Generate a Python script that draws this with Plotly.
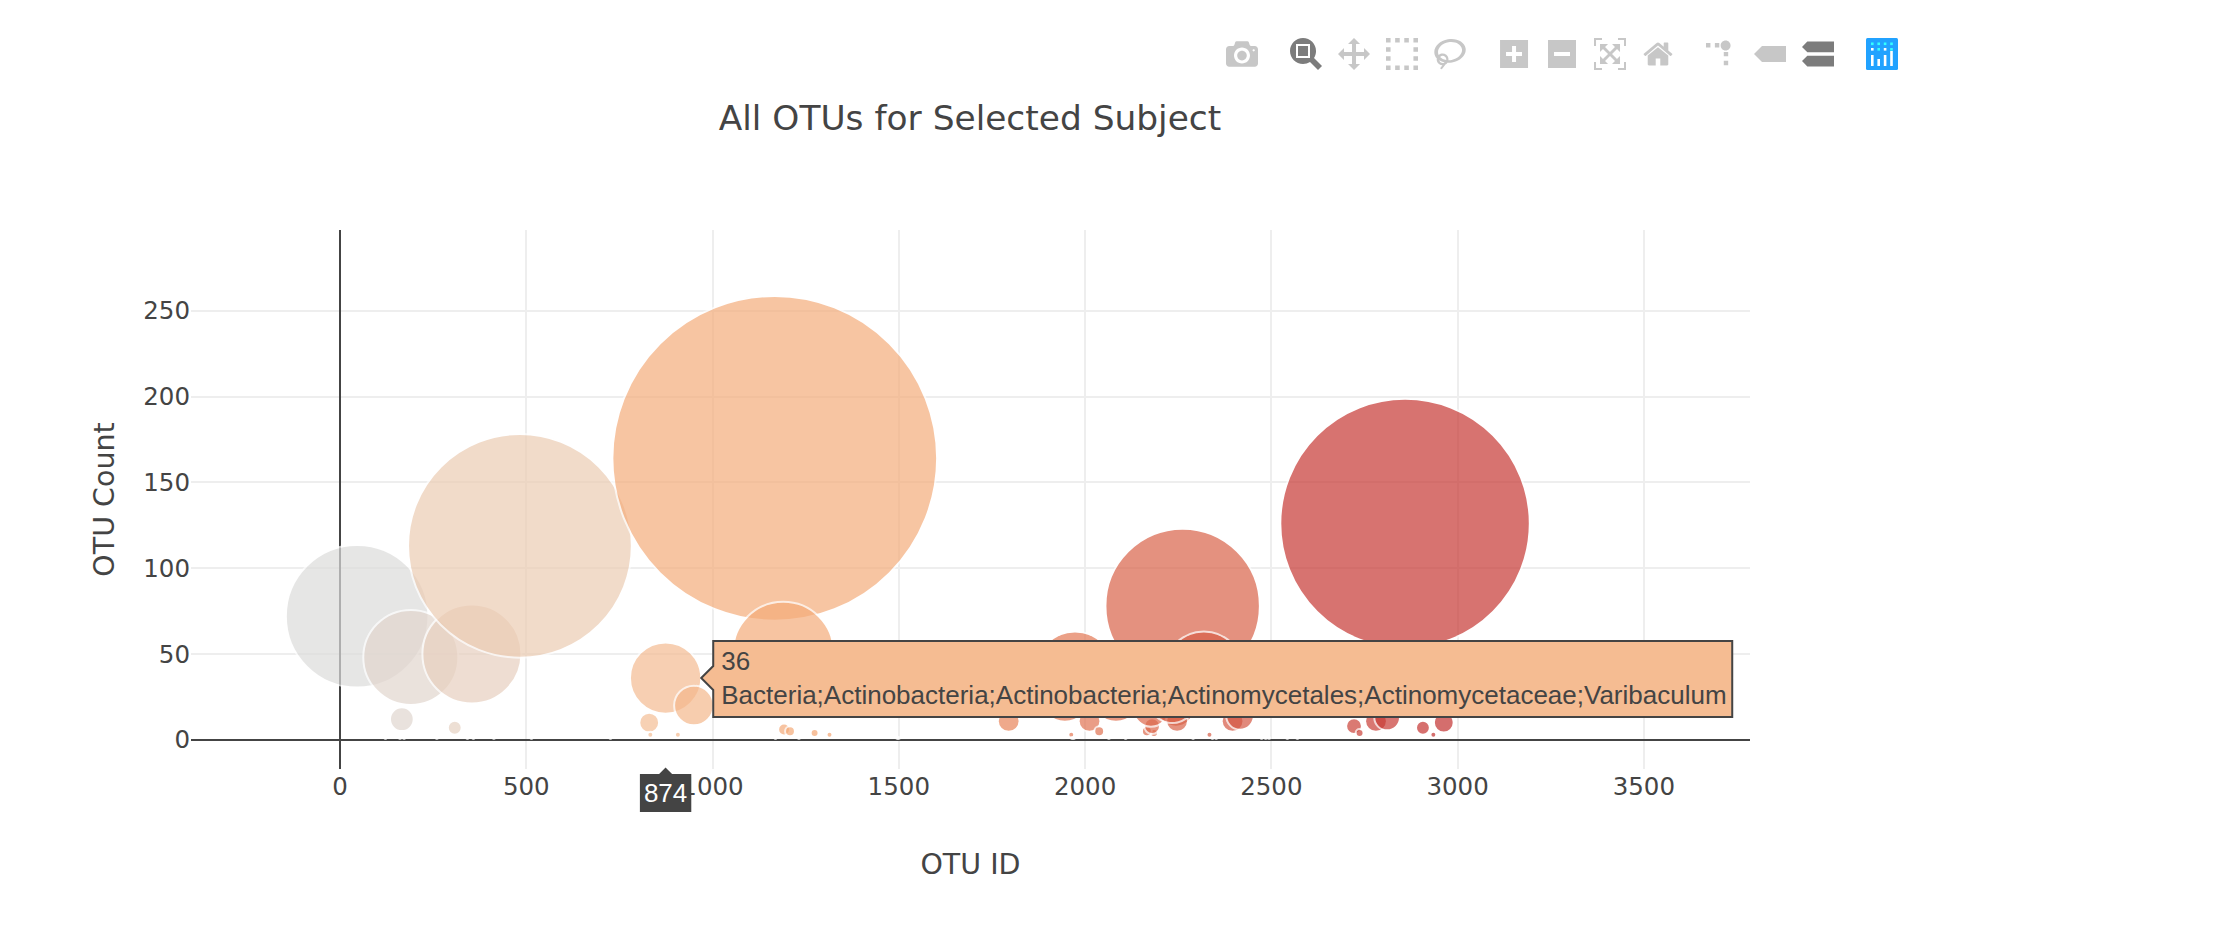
import plotly.graph_objects as go

otu_ids = [46, 190, 354, 483, 1167, 1190, 874, 950, 830, 166, 308, 1795, 1973, 2262, 2859, 2319,
           122, 161, 172, 260, 342, 358, 413, 514, 726, 833, 907, 1169, 1192, 1208, 1232, 1274, 1314,
           1496, 1500, 1946, 2012, 2083, 2038, 1963, 1965, 1970, 2064, 2109, 2185, 2166, 2180, 2177,
           2244, 2247, 2234, 2290, 2334, 2342, 2352, 2396, 2416, 2474, 2485, 2494, 2543, 2570,
           2722, 2737, 2781, 2811, 2907, 2935, 2963]
otu_counts = [72, 48, 50, 113, 164, 51, 36, 20, 10, 12, 7, 11, 40, 78, 126, 40,
              1, 1, 1, 1, 1, 1, 1, 1, 1, 3, 3, 1, 6, 5, 1, 4, 3,
              1, 1, 25, 11, 25, 5, 3, 1, 1, 1, 1, 4, 5, 8, 18,
              18, 11, 23, 1, 3, 1, 1, 11, 14, 1, 1, 1, 1, 1,
              8, 4, 11, 13, 7, 3, 10]
hover_id = 874
hover_label = "Bacteria;Actinobacteria;Actinobacteria;Actinomycetales;Actinomycetaceae;Varibaculum"
otu_labels = [hover_label if i == hover_id else "" for i in otu_ids]

reds_scale = [[0, "rgb(220,220,220)"], [0.2, "rgb(245,195,157)"],
              [0.4, "rgb(245,160,105)"], [1, "rgb(178,10,28)"]]

FONT = "DejaVu Sans, Verdana, sans-serif"
TXT = "#444"

fig = go.Figure(go.Scatter(
    x=otu_ids, y=otu_counts, text=otu_labels, mode="markers",
    marker=dict(size=otu_counts, sizemode="diameter", sizeref=0.505,
                color=otu_ids, colorscale=reds_scale, cmin=33, cmax=3500, showscale=False,
                opacity=0.7, line=dict(color="white", width=2)),
))

fig.update_layout(
    width=1932, height=910,
    margin=dict(l=183, r=190, t=222, b=149),
    paper_bgcolor="white", plot_bgcolor="white",
    hovermode="x", hoverdistance=100, dragmode="zoom", showlegend=False,
    font=dict(family=FONT, color=TXT, size=24),
    hoverlabel=dict(font=dict(family="Liberation Sans, Arial, sans-serif", size=26),
                    bordercolor=TXT),
    title=dict(text="All OTUs for Selected Subject", x=0.5 - 4 / 1932, xanchor="center",
               y=1 - 110 / 910, yanchor="middle", font=dict(family=FONT, size=34.4, color=TXT)),
    xaxis=dict(title=dict(text="OTU ID", font=dict(size=28.5), standoff=54),
               range=[-400, 3785], tickvals=[0, 500, 1000, 1500, 2000, 2500, 3000, 3500],
               ticks="", gridcolor="#eee", gridwidth=2, showline=False,
               zeroline=True, zerolinecolor=TXT, zerolinewidth=2, automargin=False,
               tickfont=dict(size=24.5, color=TXT), hoverformat="d"),
    yaxis=dict(title=dict(text="OTU Count", font=dict(size=28.5), standoff=20),
               range=[-17, 297], tickvals=[0, 50, 100, 150, 200, 250],
               ticks="", gridcolor="#eee", gridwidth=2, showline=False,
               zeroline=True, zerolinecolor=TXT, zerolinewidth=2, automargin=False,
               tickfont=dict(size=24.5, color=TXT)),
)

post = """
var st = document.createElement('style');
st.textContent = '.modebar{transform:scale(2);transform-origin:top right;top:24px !important;right:34px !important;}'
  + '.hoverlayer .hovertext path, .hoverlayer .axistext path{stroke-width:2px !important;}';
document.head.appendChild(st);
var gd = document.getElementById('{plot_id}');
var logo = document.querySelector('.modebar-btn--logo');
if (logo) {
  var dots = '', bars = '', i;
  for (i = 0; i < 4; i++) { dots += '<rect x="' + (5 + i * 6.4) + '" y="4.5" width="2.6" height="2.6" fill="#3ff"/>'; }
  for (i = 0; i < 4; i++) { dots += '<rect x="' + (5 + i * 6.4) + '" y="10" width="2.6" height="2.6" fill="' + ((i & 1) ? '#3ff' : '#fff') + '"/>'; }
  var hs = [11, 7, 11, 15];
  for (i = 0; i < 4; i++) { bars += '<rect x="' + (5 + i * 6.4) + '" y="' + (28 - hs[i]) + '" width="2.6" height="' + hs[i] + '" fill="#fff"/>'; }
  logo.innerHTML = '<svg width="16" height="16" viewBox="0 0 32 32"><rect width="32" height="32" rx="1.5" fill="#21a2ff"/>' + dots + bars + '</svg>';
}
function tweakHover(){
  var g = gd.querySelector('.hoverlayer g.hovertext');
  if (!g) return;
  var p = g.querySelector('path');
  if (p) p.setAttribute('d', 'M0,0L12,-12V-37H1031V39H12V12Z');
  g.querySelectorAll('text').forEach(function(t){ t.setAttribute('transform', 'translate(11,0)'); });
}
function doHover(){ Plotly.Fx.hover(gd, {xval: HOVER_ID}, 'xy'); tweakHover(); }
doHover();
setTimeout(doHover, 150);
setTimeout(tweakHover, 300);
""".replace("HOVER_ID", str(hover_id))

config = dict(
    displayModeBar=True, displaylogo=True,
    modeBarButtons=[["toImage"],
                    ["zoom2d", "pan2d", "select2d", "lasso2d"],
                    ["zoomIn2d", "zoomOut2d", "autoScale2d", "resetScale2d"],
                    ["toggleSpikelines", "hoverClosestCartesian", "hoverCompareCartesian"]],
)
fig.write_html("out.html", config=config, post_script=post)
